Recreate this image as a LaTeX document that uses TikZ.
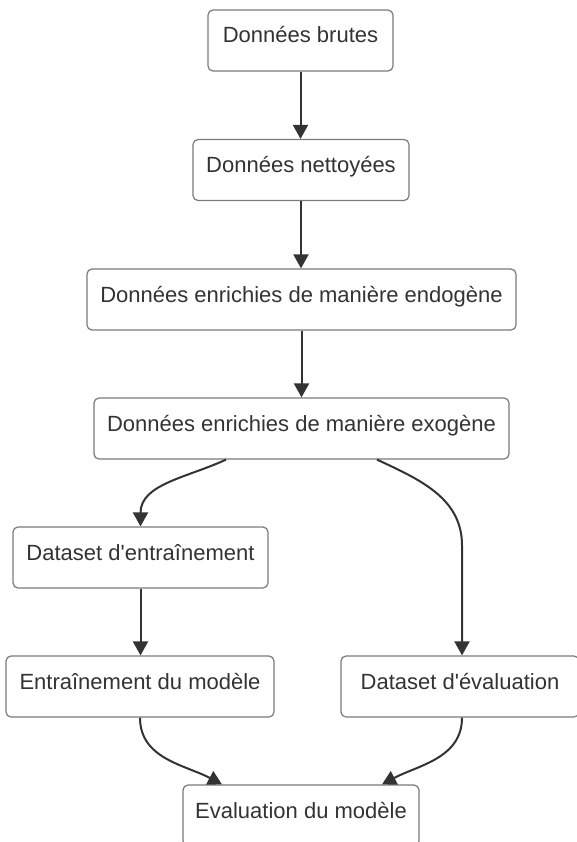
\documentclass[tikz,border=0pt]{standalone}
\usepackage{fontspec}
\setmainfont{Liberation Sans}
\usetikzlibrary{calc,arrows.meta}
\definecolor{boxgray}{HTML}{7A7A7A}
\definecolor{inkgray}{HTML}{333333}
\begin{document}
\begin{tikzpicture}[x=1pt,y=1pt,
  every node/.style={draw=boxgray,line width=1.2pt,rounded corners=5pt,fill=white,text=inkgray,
    minimum height=61pt,inner xsep=0pt,text height=16pt,text depth=11pt,font=\fontsize{22}{26}\selectfont},
  flow/.style={draw=inkgray,line width=2pt,-{Triangle[length=14pt,width=15pt]}}]
\useasboundingbox (0,0) rectangle (577,-842);
\clip (0,0) rectangle (577,-842);
\node[minimum width=185pt] (bA) at (300.5,-40.5) {Données brutes};
\node[minimum width=216pt] (bB) at (301,-170) {Données nettoyées};
\node[minimum width=429pt] (bC) at (301.5,-299.5) {Données enrichies de manière endogène};
\node[minimum width=415pt] (bD) at (301.5,-428.5) {Données enrichies de manière exogène};
\node[minimum width=255pt] (bE) at (140.5,-557.5) {Dataset d\textquotesingle entraînement};
\node[minimum width=268pt] (bF) at (140,-686.5) {Entraînement du modèle};
\node[minimum width=238pt] (bG) at (460,-686.5) {Dataset d\textquotesingle évaluation};
\node[minimum width=236pt] (bH) at (301,-815.5) {Evaluation du modèle};

\draw[flow] (bA.south) -- (bA.south |- bB.north);
\draw[flow] (bB.south) -- (bB.south |- bC.north);
\draw[flow] (bC.south) -- (bC.south |- bD.north);
\draw[flow] ($(bD.south)+(-75.5,0)$) to[out=-155,in=90] (bE.north);
\draw[flow] ($(bD.south)+(75.5,0)$) to[out=-25,in=90] ($(bG.north)+(2,110)$) -- ($(bG.north)+(2,0)$);
\draw[flow] (bE.south) -- (bE.south |- bF.north);
\draw[flow] (bF.south) to[out=-90,in=152] ($(bH.north)+(-79,0)$);
\draw[flow] ($(bG.south)+(2,0)$) to[out=-90,in=28] ($(bH.north)+(81,0)$);
\end{tikzpicture}
\end{document}
